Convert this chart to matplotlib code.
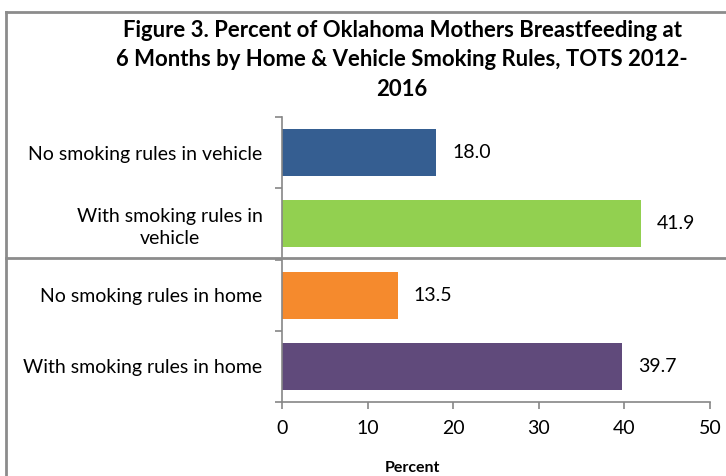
import matplotlib.pyplot as plt
from matplotlib.lines import Line2D
from matplotlib.ticker import FixedLocator

plt.rcParams['font.family'] = ['Lato', 'DejaVu Sans']

categories = ['No smoking rules in vehicle', 'With smoking rules in\nvehicle',
              'No smoking rules in home', 'With smoking rules in home']
values = [18.0, 41.9, 13.5, 39.7]
colors = ['#355E91', '#92D050', '#F58A2D', '#604A7B']
xticks = [0, 10, 20, 30, 40, 50]

W, H = 726, 476
fig = plt.figure(figsize=(W / 100, H / 100), dpi=100)

def px(x, y):
    return x / W, 1 - y / H

# axes placed in pixel terms
l, t = px(282, 117)
r, b = px(710, 402)
ax = fig.add_axes([l, b, r - l, t - b])

pos = list(range(len(values)))
ax.barh(pos, values, height=0.66, color=colors)
ax.set_ylim(3.5, -0.5)
ax.set_xlim(0, 50)

for i, v in zip(pos, values):
    ax.annotate(f'{v:.1f}', (v, i), xytext=(11.5, 0), textcoords='offset points',
                va='center', ha='left', fontsize=14)

gray = '#868686'
for s in ['top', 'right']:
    ax.spines[s].set_visible(False)
for s in ['left', 'bottom']:
    ax.spines[s].set_color(gray)
    ax.spines[s].set_linewidth(1.2)

ax.set_yticks(pos)
ax.set_yticklabels(categories, fontsize=14, linespacing=1.35)
ax.yaxis.set_minor_locator(FixedLocator([-0.5, 0.5, 1.5, 2.5, 3.5]))
ax.tick_params(axis='y', which='major', length=0, pad=14)
ax.tick_params(axis='y', which='minor', length=5, color=gray, width=1.2)
for lab in ax.get_yticklabels():
    lab.set_multialignment('center')

ax.set_xticks(xticks)
ax.tick_params(axis='x', length=5, color=gray, width=1.2, labelsize=14, pad=8)

fig.text(*px(412, 468), 'Percent', fontsize=11.5, fontweight='bold', ha='center', va='center')
fig.text(*px(402, 60), 'Figure 3. Percent of Oklahoma Mothers Breastfeeding at\n'
         '6 Months by Home & Vehicle Smoking Rules, TOTS 2012-\n2016',
         fontsize=15.9, fontweight='bold', ha='center', va='center', linespacing=1.5)

# chart border and separator
lc = '#8C8C8C'
fig.add_artist(Line2D([5.5 / W, 5.5 / W], [0, 1 - 12 / H], color=lc, lw=2, transform=fig.transFigure))
fig.add_artist(Line2D([5.5 / W, 1], [1 - 12 / H, 1 - 12 / H], color=lc, lw=2, transform=fig.transFigure))
fig.add_artist(Line2D([5.5 / W, 1], [1 - 258 / H, 1 - 258 / H], color=lc, lw=2, transform=fig.transFigure))

fig.savefig('out.png', dpi=100)
